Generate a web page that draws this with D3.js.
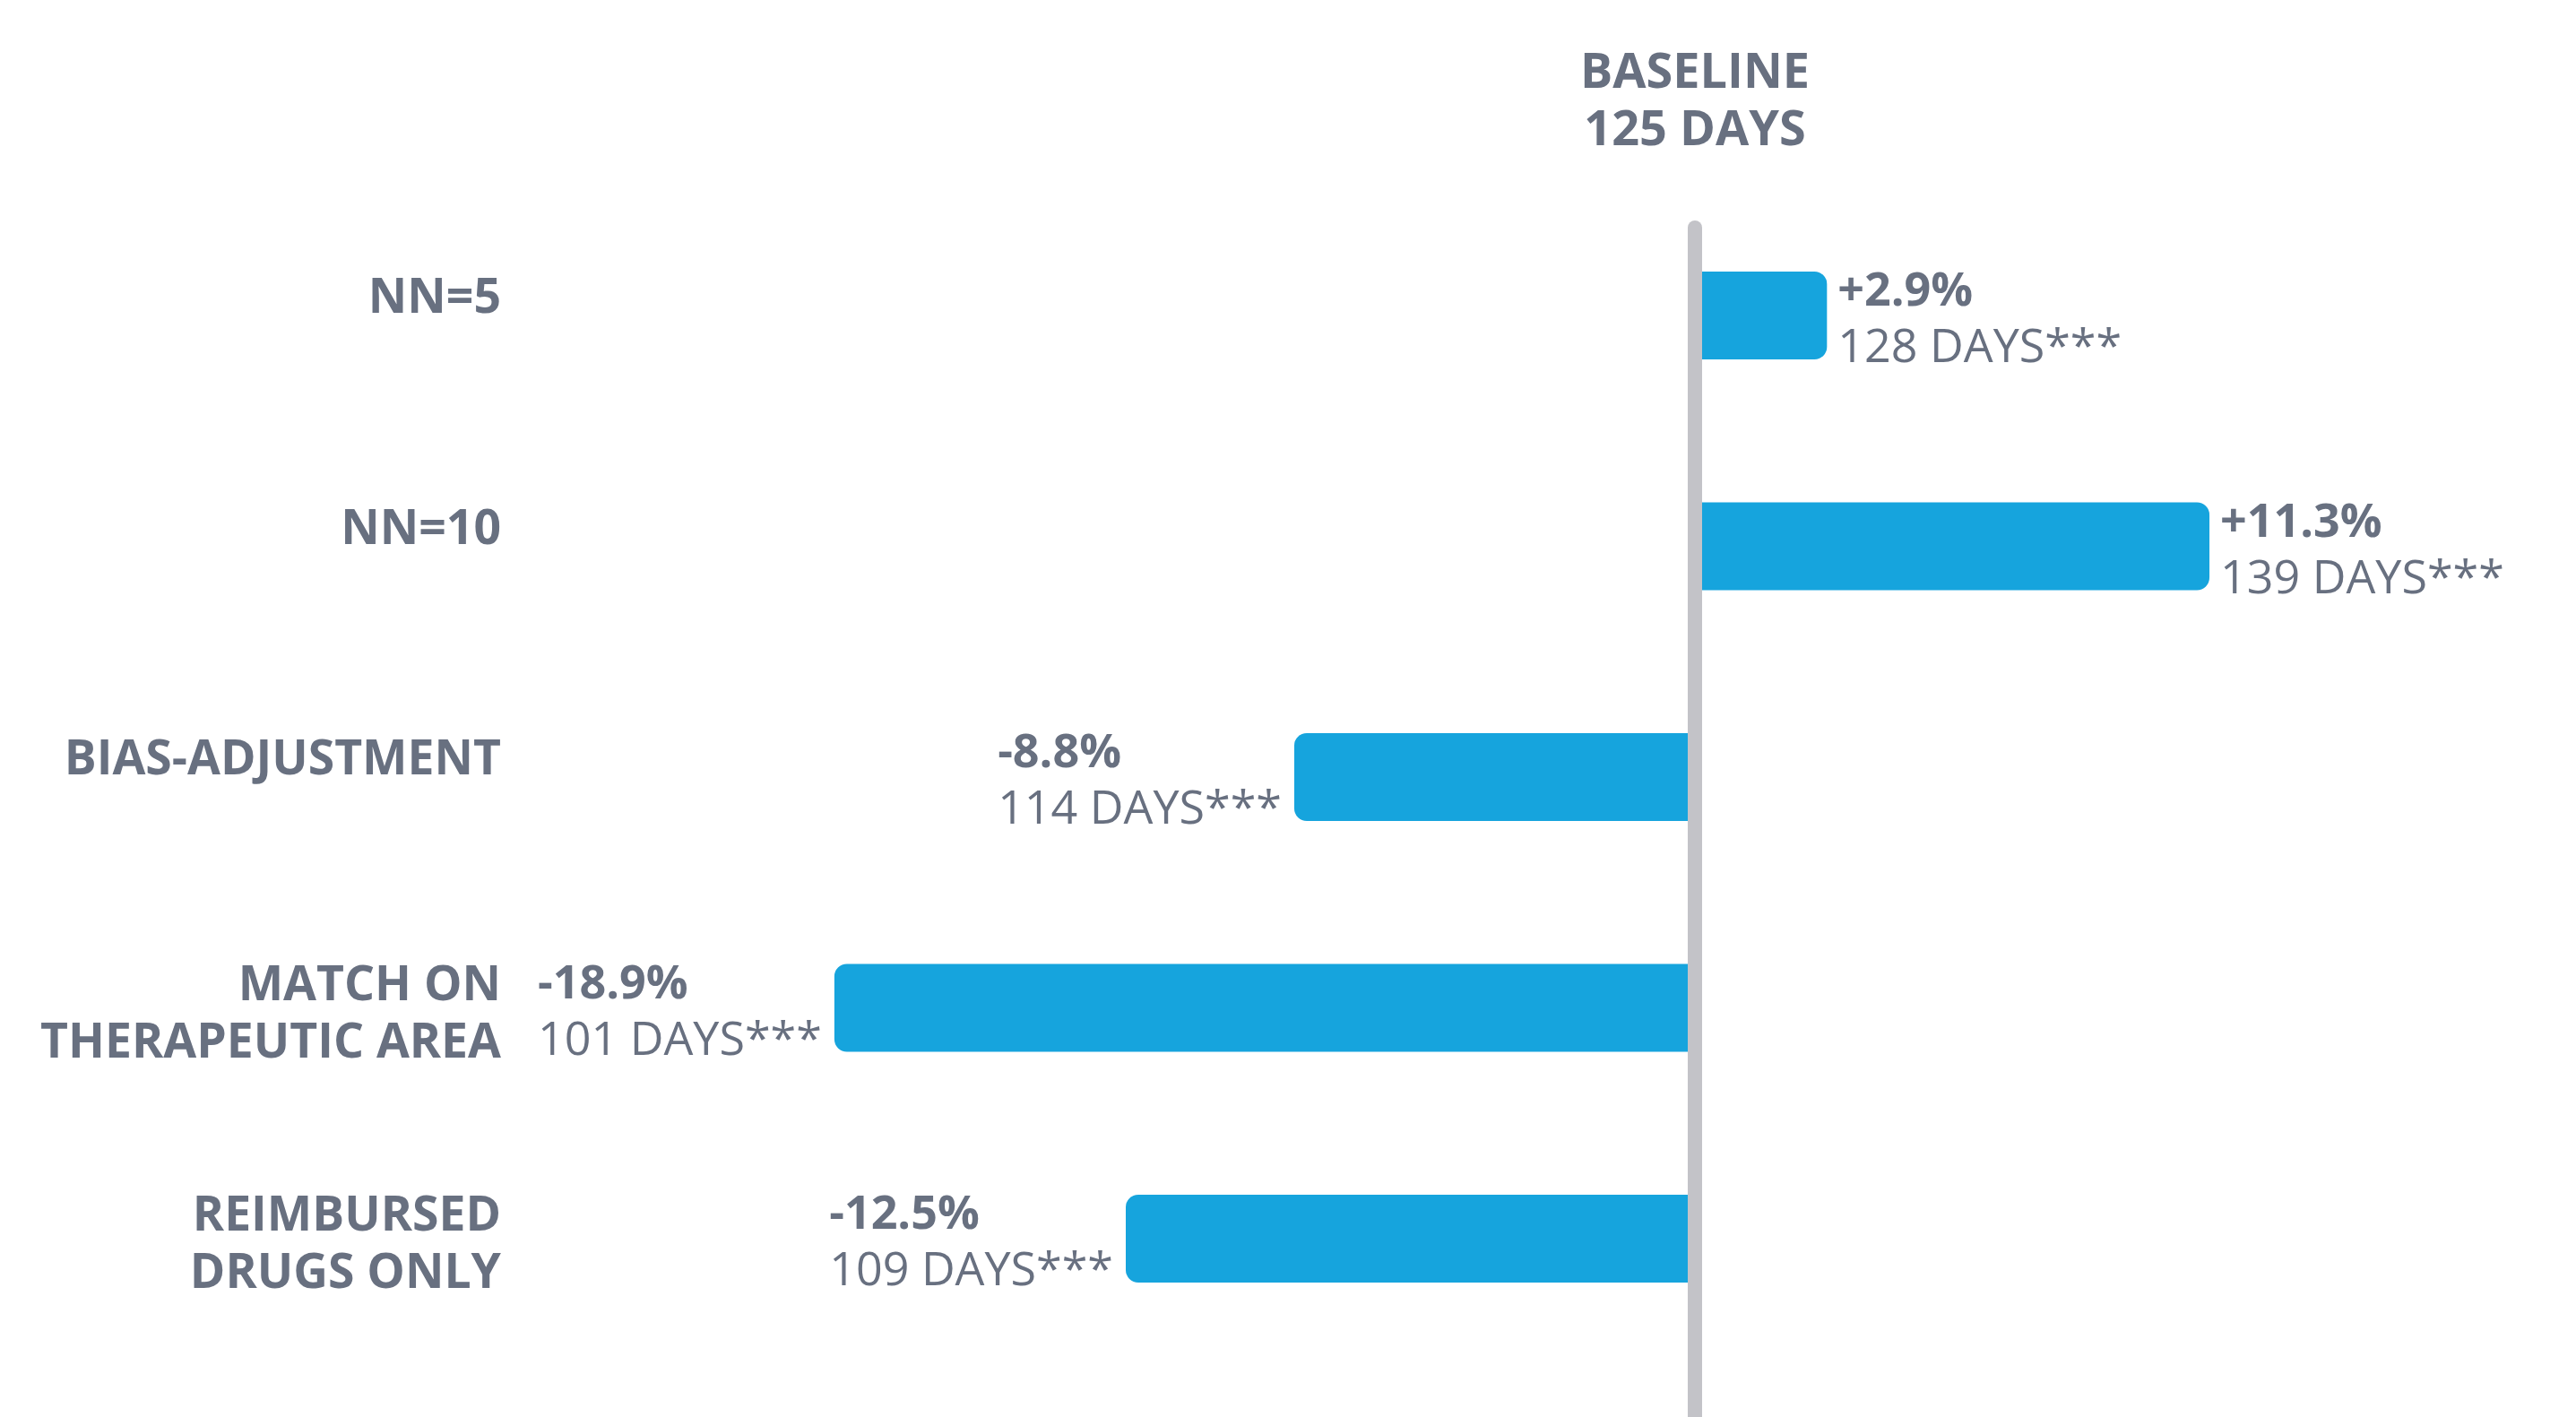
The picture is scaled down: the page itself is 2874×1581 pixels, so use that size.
<!DOCTYPE html>
<meta charset="utf-8">
<style>
body { margin: 0; background: #fff; }
text { font-family: "Open Sans", sans-serif; fill: #687080; }
.cat, .title, .pct { font-weight: 700; }
.bar { fill: #16a4dd; }
.baseline { stroke: #c3c3c8; stroke-width: 16px; stroke-linecap: round; }
</style>
<svg width="2874" height="1581"></svg>
<script src="https://cdn.jsdelivr.net/npm/d3@7"></script>
<script>
// chart values
var categories = [["NN=5"], ["NN=10"], ["BIAS-ADJUSTMENT"], ["MATCH ON", "THERAPEUTIC AREA"], ["REIMBURSED", "DRUGS ONLY"]];
var changes = [2.9, 11.3, -8.8, -18.9, -12.5];
var days = [128, 139, 114, 101, 109];
var baselineDays = 125;
var titleLines = ["BASELINE", baselineDays + " DAYS"];

var svg = d3.select("svg"),
    width = +svg.attr("width"),
    height = +svg.attr("height");

var rows = categories.map(function(c, i) {
  return {key: c.join(" "), lines: c, change: changes[i], days: days[i]};
});

var x = d3.scaleLinear().domain([-20, 15]).range([875, 2653]);
var y = d3.scalePoint().domain(rows.map(function(d) { return d.key; })).range([352, 1382]);

var barH = 98, r = 14, lineH = 64;
var fmt = d3.format("+.1f");

// bars, rounded on the outer end only
function barPath(d) {
  var x0 = x(0), x1 = x(d.change), t = y(d.key) - barH / 2, b = t + barH;
  var s = d.change >= 0 ? -1 : 1;
  var p = d3.path();
  p.moveTo(x0, t);
  p.lineTo(x1 + s * r, t);
  p.arcTo(x1, t, x1, t + r, r);
  p.lineTo(x1, b - r);
  p.arcTo(x1, b, x1 + s * r, b, r);
  p.lineTo(x0, b);
  p.closePath();
  return p.toString();
}

svg.append("g").selectAll("path")
  .data(rows)
  .join("path")
    .attr("class", "bar")
    .attr("d", barPath);

svg.append("line")
    .attr("class", "baseline")
    .attr("x1", x(0)).attr("x2", x(0))
    .attr("y1", 254).attr("y2", height + 20);

// title over the baseline
svg.append("text")
    .attr("class", "title")
    .attr("text-anchor", "middle")
    .style("font-size", "54px")
  .selectAll("tspan")
  .data(titleLines)
  .join("tspan")
    .attr("x", x(0))
    .attr("y", function(d, i) { return 98 + i * lineH; })
    .text(function(d) { return d; });

// category labels
svg.append("g").selectAll("text")
  .data(rows)
  .join("text")
    .attr("class", "cat")
    .attr("text-anchor", "end")
    .style("font-size", "53.5px")
    .each(function(d) {
      var n = d.lines.length,
          first = y(d.key) + (n === 1 ? -3 : 23) - (n - 1) * lineH / 2;
      d3.select(this).selectAll("tspan")
        .data(d.lines)
        .join("tspan")
          .attr("x", 559)
          .attr("y", function(l, i) { return first + i * lineH; })
          .text(function(l) { return l; });
    });

// value labels
var vals = svg.append("g").selectAll("g")
  .data(rows)
  .join("g");

vals.append("text")
    .attr("class", "pct")
    .style("font-size", "52px")
    .attr("y", function(d) { return y(d.key) - 11; })
    .text(function(d) { return (d.change < 0 ? "-" + Math.abs(d.change).toFixed(1) : fmt(d.change)) + "%"; });

vals.append("text")
    .attr("class", "days")
    .style("font-size", "52px")
    .attr("y", function(d) { return y(d.key) + 52; })
    .text(function(d) { return d.days + " DAYS***"; });

vals.each(function(d) {
  var g = d3.select(this),
      w = d3.max(g.selectAll("text").nodes(), function(n) { return n.getComputedTextLength(); }),
      tx = d.change >= 0 ? x(d.change) + 12 : x(d.change) - 14 - w;
  g.attr("transform", "translate(" + tx + ",0)");
});
</script>
